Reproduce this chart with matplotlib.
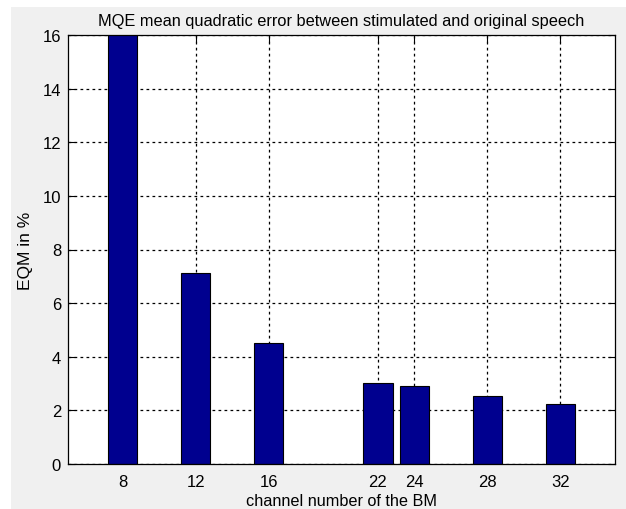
import matplotlib
matplotlib.use("Agg")
import matplotlib.pyplot as plt
from matplotlib.patches import Rectangle

channels = [8, 12, 16, 22, 24, 28, 32]
eqm = [16.5, 7.12, 4.53, 3.03, 2.9, 2.53, 2.24]
yticks = [0, 2, 4, 6, 8, 10, 12, 14, 16]

plt.rcParams["font.family"] = ["Liberation Sans", "DejaVu Sans"]

fig = plt.figure(figsize=(6.26, 5.10), dpi=100, facecolor="white")
# gray MATLAB figure area with a thin white strip top/left
fig.patches.append(Rectangle((11 / 626, 0), 1, 1 - 8 / 510, transform=fig.transFigure,
                             facecolor="#f0f0f0", edgecolor="none", zorder=-10))
ax = fig.add_axes([68 / 626, 45 / 510, 547 / 626, 429 / 510])
ax.set_facecolor("white")

ax.bar(channels, eqm, width=1.6, color="#00008f", edgecolor="black", linewidth=0.8, zorder=3)

ax.set_xlim(5, 35)
ax.set_ylim(0, 16)
ax.set_xticks(channels)
ax.set_yticks(yticks)
ax.grid(True, color="black", linestyle=(0, (2.2, 2.6)), linewidth=0.9, zorder=1)
ax.set_axisbelow(True)
ax.tick_params(direction="in", top=True, right=True, length=5, labelsize=12, colors="black")
ax.tick_params(axis="y", pad=5)
ax.tick_params(axis="x", pad=7)
for s in ax.spines.values():
    s.set_linewidth(0.9)
    s.set_zorder(4)

ax.set_title("MQE mean quadratic error between stimulated and original speech", fontsize=11.8, pad=7)
ax.set_xlabel("channel number of the BM", fontsize=11.7, labelpad=3)
ax.set_ylabel("EQM in %", fontsize=12.5, labelpad=7)

fig.savefig("out.png", dpi=100, facecolor=fig.get_facecolor())
